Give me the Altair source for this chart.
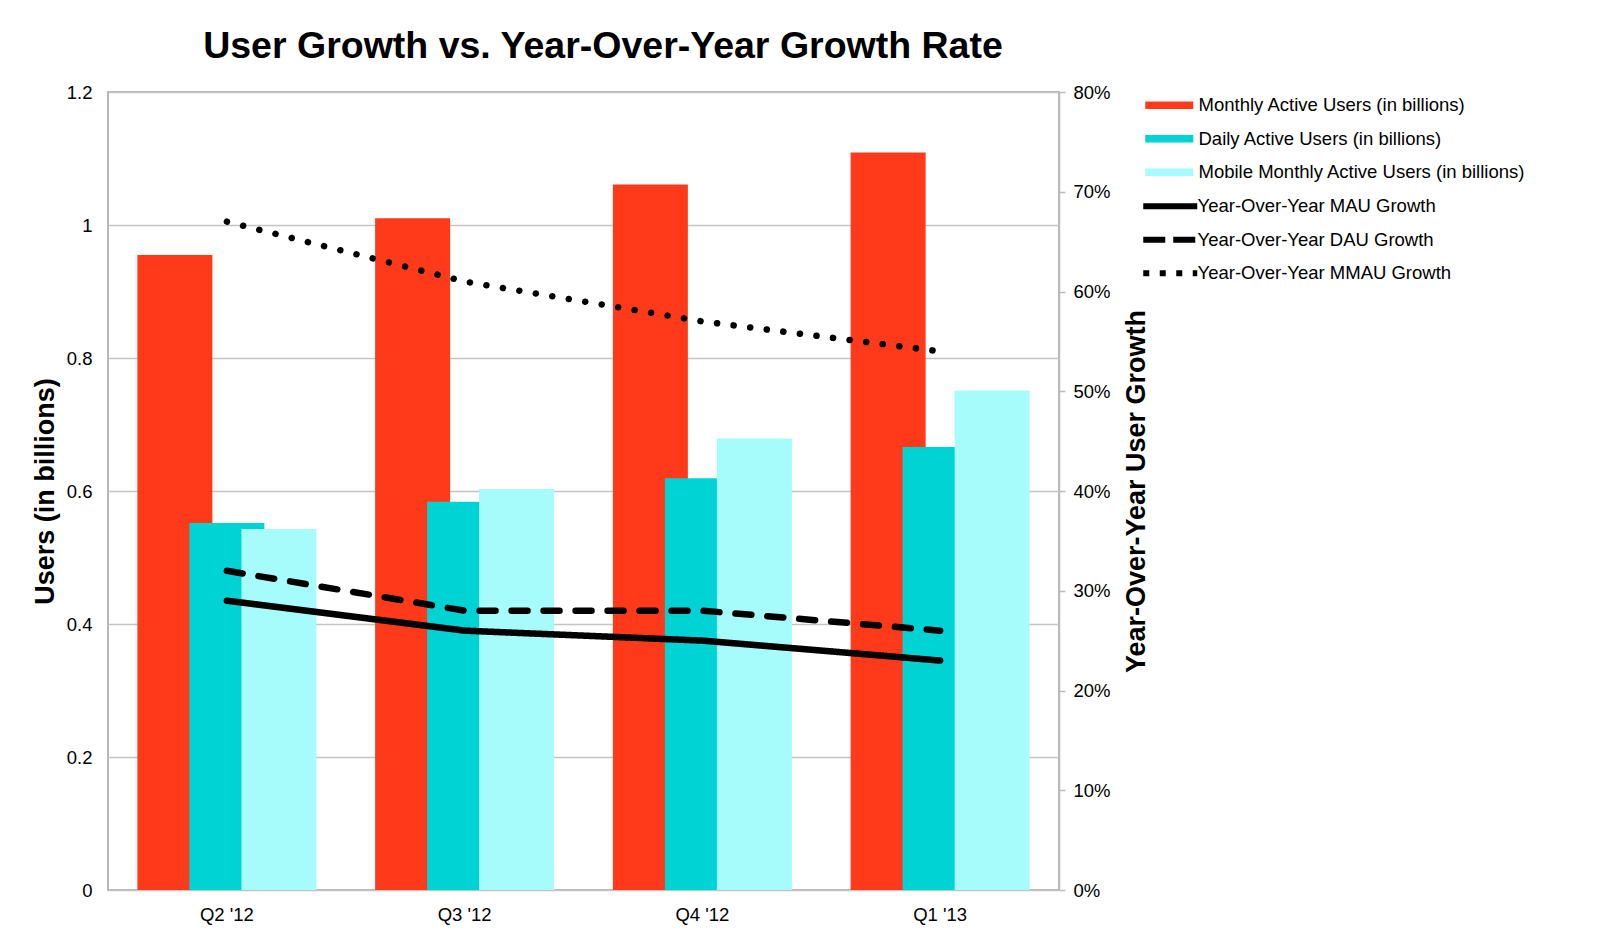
import altair as alt
import pandas as pd

quarters = ["Q2 '12", "Q3 '12", "Q4 '12", "Q1 '13"]
mau = [0.955, 1.010, 1.061, 1.109]
dau = [0.552, 0.584, 0.619, 0.666]
mmau = [0.543, 0.603, 0.679, 0.751]
mau_growth = [0.29, 0.26, 0.25, 0.23]
dau_growth = [0.32, 0.28, 0.28, 0.26]
mmau_growth = [0.67, 0.61, 0.57, 0.54]

bar_series = [
    "Monthly Active Users (in billions)",
    "Daily Active Users (in billions)",
    "Mobile Monthly Active Users (in billions)",
]
line_series = [
    "Year-Over-Year MAU Growth",
    "Year-Over-Year DAU Growth",
    "Year-Over-Year MMAU Growth",
]
bar_colors = ["#FF3A1A", "#00D3D3", "#A6FBFB"]
line_dashes = [[1, 0], [16, 16], [0.1, 16.6]]
legend_dashes = [[1, 0], [22, 8], [6, 10.5]]
bar_offsets = [-52, 0, 52]

bar_rows = []
for s, vals in zip(bar_series, [mau, dau, mmau]):
    for q, v in zip(quarters, vals):
        bar_rows.append({"quarter": q, "series": s, "users": v})
bar_df = pd.DataFrame(bar_rows)

line_rows = []
for s, vals in zip(line_series, [mau_growth, dau_growth, mmau_growth]):
    for q, v in zip(quarters, vals):
        line_rows.append({"quarter": q, "series": s, "growth": v})
line_df = pd.DataFrame(line_rows)

FONT = "Liberation Sans"

x_enc = alt.X(
    "quarter:N",
    sort=quarters,
    scale=alt.Scale(paddingInner=0, paddingOuter=0),
    axis=alt.Axis(
        title=None, labelAngle=0, ticks=False, tickSize=0, domain=False,
        labelPadding=15, grid=False, labelFontSize=18.5,
    ),
)

y_left = alt.Y(
    "users:Q",
    scale=alt.Scale(domain=[0, 1.2], nice=False),
    axis=alt.Axis(
        title="Users (in billions)",
        values=[0, 0.2, 0.4, 0.6, 0.8, 1.0, 1.2],
        format=".1~f",
        grid=True, gridColor="#C4C4C4", gridWidth=1.5,
        ticks=False, tickSize=0, domain=False,
        labelPadding=16, titlePadding=7,
    ),
)

y_right = alt.Y(
    "growth:Q",
    scale=alt.Scale(domain=[0, 0.8], nice=False),
    axis=alt.Axis(
        orient="right",
        title="Year-Over-Year User Growth",
        values=[0, 0.1, 0.2, 0.3, 0.4, 0.5, 0.6, 0.7, 0.8],
        format=".0%",
        grid=False,
        domainColor="#BBBBBB", domainWidth=1.5,
        tickColor="#BBBBBB", tickSize=6, tickWidth=1.5,
        labelPadding=8, titleAngle=270, titlePadding=40,
    ),
)

fill_enc = alt.Fill(
    "series:N",
    scale=alt.Scale(domain=bar_series, range=bar_colors),
    legend=alt.Legend(
        title=None, orient="none", legendX=1052, legendY=4,
        symbolType="M-4.8,-0.77H4.8V0.77H-4.8Z", symbolSize=100,
        symbolStrokeWidth=0, labelOffset=20, rowPadding=14.5,
    ),
)

bar_layers = []
for s, off in zip(bar_series, bar_offsets):
    bar_layers.append(
        alt.Chart(bar_df)
        .transform_filter(alt.FieldEqualPredicate(field="series", equal=s))
        .mark_bar(size=75, xOffset=off)
        .encode(x=x_enc, y=y_left, fill=fill_enc)
    )
bars = alt.layer(*bar_layers)

lines = (
    alt.Chart(line_df)
    .mark_line(color="black", strokeWidth=6.5, strokeCap="round")
    .encode(
        x=alt.X("quarter:N", sort=quarters),
        y=y_right,
        strokeDash=alt.StrokeDash(
            "series:N",
            scale=alt.Scale(domain=line_series, range=line_dashes),
            legend=None,
        ),
    )
)

# legend-only layer (no rows drawn) so that legend symbols use butt-capped dash patterns
line_legend = (
    alt.Chart(line_df)
    .transform_filter("false")
    .mark_line(color="black", strokeWidth=6)
    .encode(
        x=alt.X("quarter:N", sort=quarters),
        y=y_right,
        strokeDash=alt.StrokeDash(
            "series:N",
            scale=alt.Scale(domain=line_series, range=legend_dashes),
            legend=alt.Legend(
                title=None, orient="none", legendX=1053, legendY=105,
                symbolType="M-5.4,0H5.4", symbolSize=100,
                symbolStrokeWidth=6, symbolStrokeColor="black",
                labelOffset=18, rowPadding=8.5,
            ),
        ),
    )
)

line_group = alt.layer(lines, line_legend).resolve_scale(strokeDash="independent")

chart = (
    alt.layer(bars, line_group)
    .resolve_scale(y="independent")
    .properties(
        width=951,
        height=798,
        autosize=alt.AutoSizeParams(type="none"),
        padding={"left": 100, "top": 84, "right": 500, "bottom": 36},
        title=alt.Title(
            "User Growth vs. Year-Over-Year Growth Rate",
            font=FONT, fontSize=37.5, fontWeight="bold", color="black",
            anchor="middle", frame="group", dx=19.5, offset=18,
        ),
    )
    .configure_view(stroke="#A0A0A0", strokeWidth=1.5)
    .configure_axis(
        labelFont=FONT, labelFontSize=18.5, labelColor="black",
        titleFont=FONT, titleFontSize=27, titleFontWeight="bold", titleColor="black",
    )
    .configure_legend(
        labelFont=FONT, labelFontSize=18.5, labelColor="black", padding=0,
        labelLimit=400,
    )
)

chart.save("out.html", embed_options={"renderer": "svg", "actions": False})
